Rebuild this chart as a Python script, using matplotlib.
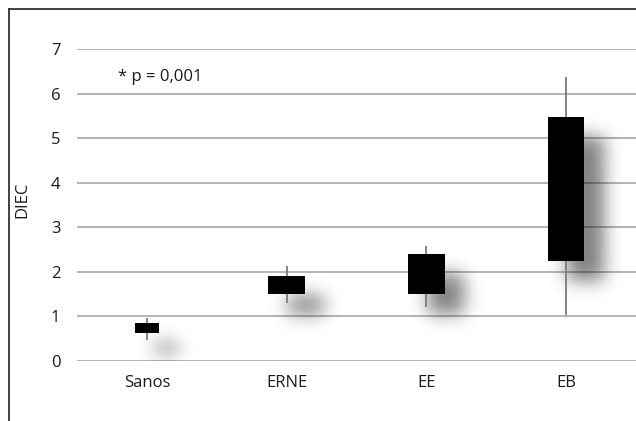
import matplotlib
matplotlib.use("Agg")
import matplotlib.pyplot as plt
import numpy as np
from matplotlib.lines import Line2D

# data
groups = ["Sanos", "ERNE", "EE", "EB"]
box_low = [0.62, 1.50, 1.50, 2.25]
box_high = [0.85, 1.90, 2.39, 5.47]
whisk_low = [0.47, 1.29, 1.20, 1.03]
whisk_high = [0.95, 2.13, 2.58, 6.37]
note = "* p = 0,001"

# style
box_w = [0.17, 0.26, 0.26, 0.26]
plt.rcParams['font.family'] = ['Open Sans', 'DejaVu Sans']

fig = plt.figure(figsize=(6.36, 4.21), dpi=100)
ax = fig.add_axes([77/636, 1 - 360.7/421, 559/636, 311.4/421])
x = np.arange(len(groups))
ax.set_xlim(-0.5, 3.5)
ax.set_ylim(0, 7)

for y in range(0, 8):
    ax.axhline(y, color="#b4b4b4", lw=1.4, zorder=1)

# drop shadows: blurred copy of each box, shifted down-right
W, H = 559, 311
mask = np.zeros((H, W))
x0l, x1l = ax.get_xlim()
y0l, y1l = ax.get_ylim()
dxp, dyp = 20, 20
for i in range(len(groups)):
    a = int((x[i] - box_w[i]/2 - x0l) / (x1l - x0l) * W) + dxp
    b = int((x[i] + box_w[i]/2 - x0l) / (x1l - x0l) * W) + dxp
    top = int((y1l - box_high[i]) / (y1l - y0l) * H) + dyp
    bot = int((y1l - box_low[i]) / (y1l - y0l) * H) + dyp
    mask[max(top, 0):min(bot, H), max(a, 0):min(b, W)] = 1.0

sig = 9.0
k = np.arange(-30, 31)
g = np.exp(-k**2 / (2 * sig**2))
g /= g.sum()
blur = np.apply_along_axis(lambda r: np.convolve(r, g, mode="same"), 1, mask)
blur = np.apply_along_axis(lambda c: np.convolve(c, g, mode="same"), 0, blur)
rgba = np.zeros((H, W, 4))
rgba[..., 3] = np.clip(blur * 0.5, 0, 1)
ax.imshow(rgba, extent=(x0l, x1l, y0l, y1l), aspect="auto", zorder=2,
          interpolation="bilinear")

ax.vlines(x, whisk_low, whisk_high, color="#7a7a7a", lw=1.3, zorder=3)
ax.bar(x, np.array(box_high) - np.array(box_low), bottom=box_low,
       width=box_w, color="black", zorder=4)

ax.set_xticks(x)
ax.set_xticklabels(groups)
ax.set_yticks(range(0, 8))
ax.tick_params(length=0, labelsize=12, colors="#1a1a1a")
ax.tick_params(axis="x", pad=10)
ax.tick_params(axis="y", pad=12)
for s in ax.spines.values():
    s.set_visible(False)

ax.text(-0.21, 6.38, note, fontsize=12, color="#1a1a1a", va="center", ha="left")
fig.text(22/636, 1 - 200/421, "DIEC", rotation=90, ha="center", va="center",
         fontsize=12, color="#1a1a1a")

# frame around the figure (left and top visible)
fig.add_artist(Line2D([9/636, 9/636], [0, 1 - 9/421], color="#333333", lw=1.3))
fig.add_artist(Line2D([9/636, 1], [1 - 9/421, 1 - 9/421], color="#333333", lw=1.3))

fig.savefig("out.png", dpi=100)
